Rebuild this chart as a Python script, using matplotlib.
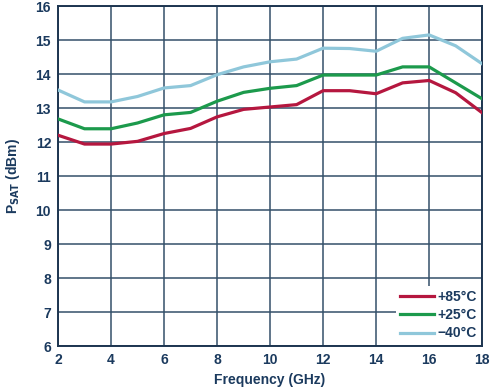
import matplotlib
matplotlib.use("Agg")
import matplotlib.pyplot as plt

freq = [2, 3, 4, 5, 6, 7, 8, 9, 10, 11, 12, 13, 14, 15, 16, 17, 18]
p85 = [12.2, 11.94, 11.94, 12.02, 12.25, 12.4, 12.74, 12.96, 13.03, 13.1, 13.51, 13.51, 13.42, 13.74, 13.81, 13.45, 12.86]
p25 = [12.68, 12.39, 12.39, 12.56, 12.8, 12.87, 13.2, 13.46, 13.58, 13.66, 13.97, 13.97, 13.97, 14.21, 14.21, 13.74, 13.27]
m40 = [13.53, 13.18, 13.18, 13.34, 13.59, 13.66, 13.98, 14.21, 14.36, 14.44, 14.76, 14.75, 14.67, 15.05, 15.15, 14.83, 14.3]
labels = ["+85°C", "+25°C", "\u221240°C"]
xticks = [2, 4, 6, 8, 10, 12, 14, 16, 18]
yticks = [6, 7, 8, 9, 10, 11, 12, 13, 14, 15, 16]

plt.rcParams['font.family'] = ['Liberation Sans', 'DejaVu Sans']
navy = '#1b3a5e'
grid_c = '#34506a'
fs = 10

fig = plt.figure(figsize=(4.93, 3.89), dpi=100)
ax = fig.add_axes([0.1177, 0.1105, 0.8603, 0.874])

colors = ['#b5173f', '#1c9a4c', '#8fc7da']
for ys, c, lab in zip([p85, p25, m40], colors, labels):
    ax.plot(freq, ys, color=c, lw=2.3, label=lab, solid_joinstyle='round', zorder=3)

ax.set_xlim(2, 18)
ax.set_ylim(6, 16)
ax.set_xticks(xticks)
ax.set_yticks(yticks)
ax.grid(True, color=grid_c, lw=1.1, zorder=1)
ax.tick_params(length=0, pad=5, labelsize=fs, labelcolor=navy)
for lab in ax.get_xticklabels() + ax.get_yticklabels():
    lab.set_fontweight('bold')
for s in ax.spines.values():
    s.set_color('#1d3550')
    s.set_linewidth(1.4)

ax.set_xlabel("Frequency (GHz)", fontsize=fs, fontweight='bold', color=navy, labelpad=4)
ax.set_ylabel(r"P$_{\mathbf{SAT}}$ (dBm)", fontsize=fs, fontweight='bold', color=navy, labelpad=10)

leg = ax.legend(loc='lower right', frameon=True, fontsize=fs, handlelength=2.4,
                borderaxespad=0.1, handletextpad=0.25, labelspacing=0.3, borderpad=0.3)
leg.get_frame().set_edgecolor('none')
leg.get_frame().set_facecolor('white')
leg.get_frame().set_alpha(1)
leg.get_frame().set_boxstyle('square', pad=0)
for t in leg.get_texts():
    t.set_color(navy)
    t.set_fontweight('bold')
leg.set_zorder(5)

fig.savefig("out.png", dpi=100, facecolor='white')
